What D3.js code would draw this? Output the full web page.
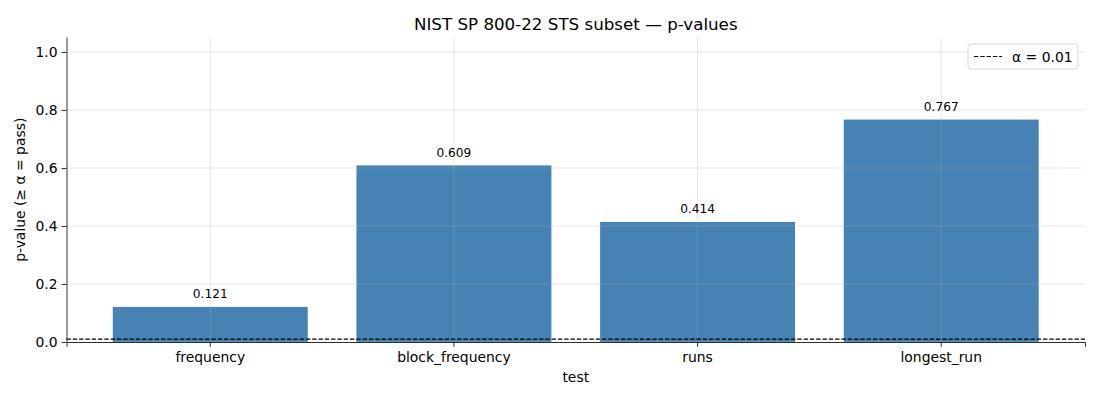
<!DOCTYPE html>
<html>
<head>
<meta charset="utf-8">
<script src="https://cdn.jsdelivr.net/npm/d3@7"></script>
<style>
  body { margin: 0; background: #fff; }
  svg { font-family: "DejaVu Sans", sans-serif; }
</style>
</head>
<body>
<div id="chart"></div>
<script>
// chart data
var tests = ["frequency", "block_frequency", "runs", "longest_run"];
var pvalues = [0.121, 0.609, 0.414, 0.767];
var yTicks = [0, 0.2, 0.4, 0.6, 0.8, 1.0];
var alpha = 0.01;

var W = 1100, H = 400;
var margin = {left: 66.5, right: 15, top: 37.5, bottom: 58};

var svg = d3.select("#chart").append("svg")
  .attr("width", W).attr("height", H);

var x = d3.scaleBand()
  .domain(tests)
  .range([margin.left, W - margin.right])
  .paddingInner(0.2)
  .paddingOuter(0.19);

var y = d3.scaleLinear()
  .domain([0, 1.05])
  .range([H - margin.bottom, margin.top]);

// bars
svg.append("g").selectAll("rect")
  .data(tests)
  .enter().append("rect")
  .attr("x", function(d) { return x(d); })
  .attr("y", function(d, i) { return y(pvalues[i]); })
  .attr("width", x.bandwidth())
  .attr("height", function(d, i) { return y(0) - y(pvalues[i]); })
  .attr("fill", "#4682b4");

// grid on top of bars, like the original
var grid = svg.append("g").attr("stroke", "#b0b0b0").attr("stroke-opacity", 0.38).attr("stroke-width", 0.8);
grid.selectAll(".gy").data(yTicks).enter().append("line")
  .attr("x1", margin.left).attr("x2", W - margin.right)
  .attr("y1", function(d) { return y(d); }).attr("y2", function(d) { return y(d); });
grid.selectAll(".gx").data(tests).enter().append("line")
  .attr("x1", function(d) { return x(d) + x.bandwidth() / 2; })
  .attr("x2", function(d) { return x(d) + x.bandwidth() / 2; })
  .attr("y1", margin.top).attr("y2", H - margin.bottom);

// alpha line
svg.append("line")
  .attr("x1", margin.left).attr("x2", W - margin.right)
  .attr("y1", y(alpha)).attr("y2", y(alpha))
  .attr("stroke", "#000").attr("stroke-width", 1.2)
  .attr("stroke-dasharray", "4.4,1.9");

// value labels
svg.append("g").selectAll("text")
  .data(tests)
  .enter().append("text")
  .attr("x", function(d) { return x(d) + x.bandwidth() / 2; })
  .attr("y", function(d, i) { return y(pvalues[i]) - 8.5; })
  .attr("text-anchor", "middle")
  .attr("font-size", "12.2px")
  .attr("fill", "#000")
  .text(function(d, i) { return d3.format(".3f")(pvalues[i]); });

// axes
var xAxis = svg.append("g")
  .attr("transform", "translate(0," + y(0) + ")")
  .call(d3.axisBottom(x).tickSizeOuter(0).tickSize(4.9).tickPadding(5));
var yAxis = svg.append("g")
  .attr("transform", "translate(" + margin.left + ",0)")
  .call(d3.axisLeft(y).tickValues(yTicks).tickFormat(d3.format(".1f")).tickSizeOuter(0).tickSize(4.9).tickPadding(4));

[xAxis, yAxis].forEach(function(a) {
  a.selectAll("text").attr("font-size", "13.9px").attr("fill", "#000").attr("font-family", "DejaVu Sans, sans-serif");
  a.selectAll("line").attr("stroke", "#000").attr("stroke-width", 0.8);
  a.select(".domain").attr("stroke", "#000").attr("stroke-width", 0.8);
});
yAxis.select(".domain").attr("d", "M0.5," + margin.top + "V" + y(0));

// titles
svg.append("text")
  .attr("x", (margin.left + W - margin.right) / 2).attr("y", 30)
  .attr("text-anchor", "middle").attr("font-size", "16.7px")
  .text("NIST SP 800-22 STS subset \u2014 p-values");

svg.append("text")
  .attr("x", (margin.left + W - margin.right) / 2).attr("y", 382)
  .attr("text-anchor", "middle").attr("font-size", "13.9px")
  .text("test");

svg.append("text")
  .attr("transform", "translate(25," + (margin.top + (y(0) - margin.top) / 2) + ") rotate(-90)")
  .attr("text-anchor", "middle").attr("font-size", "13.9px")
  .text("p-value (\u2265 \u03b1 = pass)");

// legend
var lg = svg.append("g").attr("transform", "translate(968,44)");
lg.append("rect")
  .attr("width", 110).attr("height", 25).attr("rx", 3)
  .attr("fill", "#fff").attr("fill-opacity", 0.8)
  .attr("stroke", "#ccc").attr("stroke-width", 0.8);
lg.append("line")
  .attr("x1", 6).attr("x2", 34).attr("y1", 12.5).attr("y2", 12.5)
  .attr("stroke", "#000").attr("stroke-width", 1.2)
  .attr("stroke-dasharray", "4.4,1.9");
lg.append("text")
  .attr("x", 44).attr("y", 17.5).attr("font-size", "13.9px")
  .text("\u03b1 = 0.01");
</script>
</body>
</html>
